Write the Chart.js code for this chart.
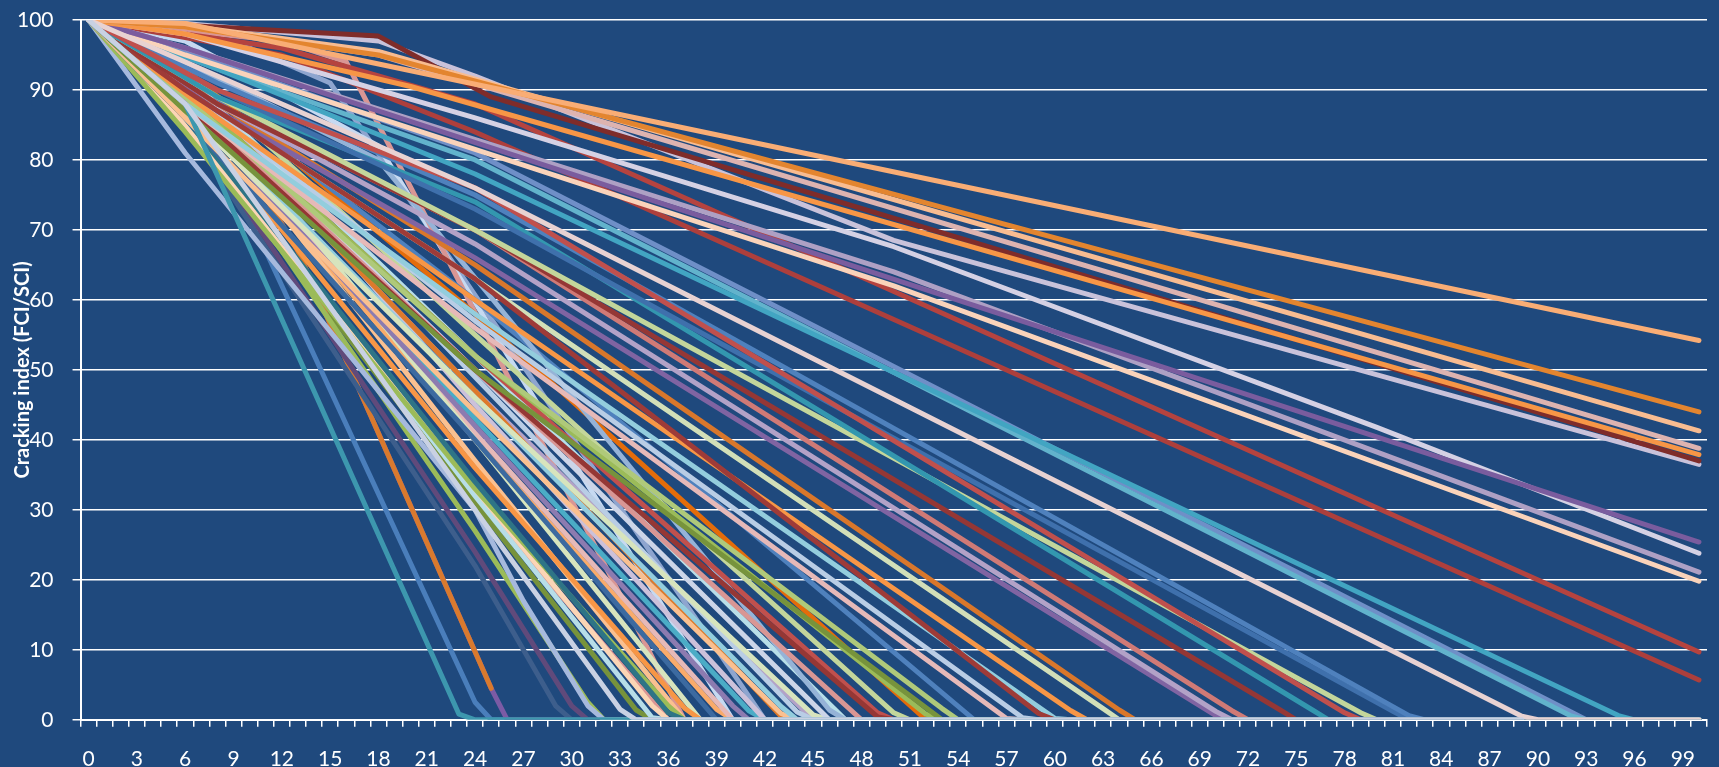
<!DOCTYPE html>
<html>
<head>
<meta charset="utf-8">
<script src="https://cdn.jsdelivr.net/npm/chart.js@4.4.1/dist/chart.umd.min.js"></script>
<style>
  html, body { margin: 0; padding: 0; background: #1F497D; }
  #wrap { width: 1719px; height: 767px; }
</style>
</head>
<body>
<div id="wrap"><canvas id="chart"></canvas></div>
<script>
//-------------
//- DATA -
//-------------
// categories 0..100 (years), labels shown every 3
var categories = [0,1,2,3,4,5,6,7,8,9,10,11,12,13,14,15,16,17,18,19,20,21,22,23,24,25,26,27,28,29,30,
  31,32,33,34,35,36,37,38,39,40,41,42,43,44,45,46,47,48,49,50,51,52,53,54,55,56,57,58,59,60,61,62,63,64,65,
  66,67,68,69,70,71,72,73,74,75,76,77,78,79,80,81,82,83,84,85,86,87,88,89,90,91,92,93,94,95,96,97,98,99,100];
var yTicks = [0,10,20,30,40,50,60,70,80,90,100];

// each line = [category, index value] vertices
var l01 = [[0,100],[6,99.5],[100,54.2]];
var l02 = [[0,100],[6,99],[18,95],[100,44]];
var l03 = [[0,100],[6,99.2],[18,95.5],[100,41.3]];
var l04 = [[0,100],[6,99],[18,95],[100,38.8]];
var l05 = [[0,100],[6,98],[20,90.5],[100,37.9]];
var l06 = [[0,100],[18,97.7],[25,89],[100,37]];
var l07 = [[0,100],[6,99.5],[18,97],[24,92],[50,68.5],[100,36.5]];
var l08 = [[0,100],[6,96],[100,25.4]];
var l09 = [[0,100],[6,98],[24,86],[50,67.6],[80,41.8],[100,23.8]];
var l10 = [[0,100],[6,96],[50,64],[100,21.1]];
var l11 = [[0,100],[6,95],[50,62],[100,19.8]];
var l12 = [[0,100],[12,96],[24,88],[100,9.7]];
var l13 = [[0,100],[12,95],[24,84],[100,5.7]];
var l14 = [[0,100],[8,93],[24,78],[95,0.6],[96,0],[100,0]];
var l15 = [[0,100],[8,93],[24,80],[92,0.6],[93,0],[100,0]];
var l16 = [[0,100],[8,94],[24,81],[92,1.2],[93,0],[100,0]];
var l17 = [[0,100],[8,92],[24,76],[89,0.5],[90,0],[100,0]];
var l18 = [[0,100],[8,90],[24,76],[78,1],[79,0],[100,0]];
var l19 = [[0,100],[8,91],[24,75],[82,0.6],[83,0],[100,0]];
var l20 = [[0,100],[8,90],[24,73],[81,1.2],[82,0],[100,0]];
var l21 = [[0,100],[8,89],[24,74],[76,1.4],[77,0],[100,0]];
var l22 = [[0,100],[8,89],[24,70],[79,1],[80,0],[100,0]];
var l23 = [[0,100],[8,88],[24,70],[74,1.4],[75,0],[100,0]];
var l24 = [[0,100],[6,90],[24,63],[59,0.9],[60,0],[100,0]];
var l25 = [[0,100],[8,88],[24,70],[71,1.3],[72,0],[100,0]];
var l26 = [[0,100],[8,88],[24,68],[70,1.2],[71,0],[100,0]];
var l27 = [[0,100],[8,87],[24,66],[70,0.6],[71,0],[100,0]];
var l28 = [[0,100],[8,88],[24,65],[64,1.4],[65,0],[100,0]];
var l29 = [[0,100],[8,87],[24,63],[63,1.6],[64,0],[100,0]];
var l30 = [[0,100],[8,86],[24,60],[61,1.3],[62,0],[100,0]];
var l31 = [[0,100],[6,88],[24,58],[60,0.2],[61,0],[100,0]];
var l32 = [[0,100],[6,90],[24,57],[58,0.3],[59,0],[100,0]];
var l33 = [[0,100],[6,88],[24,56],[57,0.2],[58,0],[100,0]];
var l34 = [[0,100],[6,89],[24,52],[53,1.6],[54,0],[100,0]];
var l35 = [[0,100],[6,87],[24,50],[53,0],[100,0]];
var l36 = [[0,100],[6,90],[24,52],[52,0.8],[53,0],[100,0]];
var l37 = [[0,100],[6,88],[24,50],[49,0.4],[50,0],[100,0]];
var l38 = [[0,100],[6,90],[24,52],[49,1],[50,0],[100,0]];
var l39 = [[0,100],[6,89],[24,50],[48,0],[100,0]];
var l40 = [[0,100],[6,90],[24,50],[46,0],[100,0]];
var l41 = [[0,100],[6,87],[24,46],[45,0.7],[46,0],[100,0]];
var l42 = [[0,100],[6,88],[24,46],[43,1.9],[44,0],[100,0]];
var l43 = [[0,100],[6,86],[24,44],[43,0.9],[44,0],[100,0]];
var l44 = [[0,100],[6,90],[24,47],[43,0.5],[44,0],[100,0]];
var l45 = [[0,100],[6,88],[24,42],[40,2],[41,0],[100,0]];
var l46 = [[0,100],[6,86],[24,40],[39,0],[100,0]];
var l47 = [[0,100],[6,87],[24,36],[37,1.7],[38,0],[100,0]];
var l48 = [[0,100],[6,86],[24,34],[36,1],[37,0],[100,0]];
var l49 = [[0,100],[6,84],[24,33],[36,2],[37,0],[100,0]];
var l50 = [[0,100],[6,85],[24,33],[35,2],[36,0],[100,0]];
var l51 = [[0,100],[6,86],[24,32],[35,0.3],[36,0],[100,0]];
var l52 = [[0,100],[6,88],[24,30],[33,1.5],[34,0],[89,0]];
var l53 = [[0,100],[6,81],[24,30],[27,17],[31,2],[32,0],[100,0]];
var l54 = [[0,100],[6,87],[24,27],[31,2.5],[32,0],[100,0]];
var l55 = [[0,100],[6,86],[24,24],[30,2],[31,0],[100,0]];
var l56 = [[0,100],[6,85],[24,22],[29,2],[30,0],[100,0]];
var l57 = [[0,100],[7,90],[13,67],[25,4.5]];
var l58 = [[0,100],[7,90],[13,67],[25,4.5],[26,0],[100,0]];
var l59 = [[0,100],[6,88],[11,67],[24,2.5],[25,0],[100,0]];
var l60 = [[0,100],[6,88],[23,0.8],[24,0],[100,0]];
var l61 = [[0,100],[6,92],[24,40],[38,0],[100,0]];
var l62 = [[0,100],[6,90],[24,41],[40,0],[100,0]];
var l63 = [[0,100],[6,93],[24,45],[42,0],[100,0]];
var l64 = [[0,100],[6,88],[24,43],[41,1.3],[42,0],[100,0]];
var l65 = [[0,100],[6,90],[24,37],[37,0],[100,0]];
var l66 = [[0,100],[6,92],[24,49],[44,1.1],[45,0],[100,0]];
var l67 = [[0,100],[6,85],[24,31],[34,1.4],[35,0],[100,0]];
var l68 = [[0,100],[6,89],[24,40],[39,1.5],[40,0],[100,0]];
var l69 = [[0,100],[6,94],[18,80],[46,1.4],[47,0],[100,0]];
var l70 = [[0,100],[6,86],[24,32],[36,0],[100,0]];
var l71 = [[0,100],[6,92],[24,52],[47,0],[100,0]];
var l72 = [[0,100],[6,90],[24,47],[45,0],[100,0]];
var l73 = [[0,100],[6,92],[24,60],[55,0],[100,0]];
var l74 = [[0,100],[6,93],[24,58],[52,0],[100,0]];
var l75 = [[0,100],[6,93],[24,55],[50,1],[51,0],[100,0]];
var l76 = [[0,100],[12,97],[16,94],[37,0],[100,0]];
var l77 = [[0,100],[6,97],[18,82],[40,0],[100,0]];
var l78 = [[0,100],[10,96],[15,91],[42,0],[100,0]];

var lines = [l01,l02,l03,l04,l05,l06,l07,l08,l09,l10,l11,l12,l13,l14,l15,l16,l17,l18,l19,l20,
  l21,l22,l23,l24,l25,l26,l27,l28,l29,l30,l31,l32,l33,l34,l35,l36,l37,l38,l39,l40,
  l41,l42,l43,l44,l45,l46,l47,l48,l49,l50,l51,l52,l53,l54,l55,l56,l57,l58,l59,l60,
  l61,l62,l63,l64,l65,l66,l67,l68,l69,l70,l71,l72,l73,l74,l75,l76,l77,l78];

//PARAMETRIZACION DE COLORES (one per line)
var colors = ['#F9AD75','#E3852F','#F8BC91','#DDB3B0','#F79646','#7F2C2A','#C9C2DA','#7A5C9E','#D5D1E4','#AEA0C4',
  '#FAD3BA','#B5433F','#AD3F3C','#42A5C2','#62B3CC','#6F8FC7','#E8D2D2','#C0504D','#4F81BD','#3F70AC',
  '#3397AF','#C3D69B','#953735','#9E3B38','#D07A76','#B3A2C7','#8064A2','#D9772B','#D2DFB8','#F79646',
  '#93CDDD','#B9CDE5','#E6B9B8','#AFC97A','#77933C','#9BBB59','#953735','#C0504D','#D99694','#CCD5E8',
  '#D7E4BD','#93CDDD','#FAC090','#DD7A2C','#8C7BB0','#3C6AA0','#F79646','#2E7486','#9BBB59','#FBD5B5',
  '#B7DEE8','#C9D1E3','#A6B9DD','#9BBB59','#604A7B','#3D5E8C','#D97A2E','#7B5BA5','#4A7EBB','#3D97AE',
  '#D7E4BD','#E6B9B8','#CCC1DA','#4BACC6','#FAC090','#B9CDE5','#77933C','#F9AB6B','#95B3D7','#DA9694',
  '#B7DEE8','#B3A2C7','#4F81BD','#E46C0A','#C3D69B','#D99694','#C6D9F1','#8EA5CF'];

// lines lying on top of the zero strip
var onTop = { 52: -3, 17: -2, 60: -1 };

//-------------
//- CHART -
//-------------
function toSeries(vertices)
{
     var arr = categories.map(function() { return null; });
     vertices.forEach(function(p) { arr[p[0]] = p[1]; });
     return arr;
}

var datasets = [];
lines.forEach(function(v, i) {
     datasets.push({
          label: 'S' + (i + 1),
          data: toSeries(v),
          borderColor: colors[i],
          backgroundColor: colors[i],
          borderWidth: 5,
          borderCapStyle: 'round',
          borderJoinStyle: 'round',
          pointRadius: 0,
          pointHoverRadius: 0,
          tension: 0,
          fill: false,
          spanGaps: true,
          order: onTop[i + 1] || 0
     });
});

var ctx = document.getElementById('chart').getContext('2d');
var chart = new Chart(ctx, {
     type: 'line',
     data: { labels: categories, datasets: datasets },
     options: {
          responsive: true,
          maintainAspectRatio: false,
          animation: false,
          events: [],
          layout: { padding: { top: 20, right: 10, bottom: -25, left: 0 } },
          plugins: { legend: { display: false }, tooltip: { enabled: false } },
          scales: {
               x: {
                    type: 'category',
                    offset: true,
                    grid: { offset: true, drawOnChartArea: false, drawTicks: true, tickLength: 7, color: '#FFFFFF', lineWidth: 1.5 },
                    border: { display: true, color: '#FFFFFF', width: 2 },
                    ticks: {
                         autoSkip: false, maxRotation: 0, minRotation: 0, padding: 20,
                         color: '#FFFFFF', font: { family: 'Lato', size: 21 },
                         callback: function(val, i) { return i % 3 === 0 ? String(categories[i]) : ''; }
                    }
               },
               y: {
                    min: yTicks[0],
                    max: yTicks[yTicks.length - 1],
                    afterBuildTicks: function(s) { s.ticks = yTicks.map(function(t) { return { value: t }; }); },
                    // the tick padding should not push the plot down
                    afterFit: function(s) { s.paddingTop = 12; s.paddingBottom = 12; },
                    grid: { color: '#FFFFFF', lineWidth: 1.5, drawTicks: true, tickLength: 8 },
                    border: { display: true, color: '#FFFFFF', width: 2 },
                    ticks: { padding: 19, color: '#FFFFFF', font: { family: 'Lato', size: 21 } },
                    title: {
                         display: true,
                         text: 'Cracking index (FCI/SCI)',
                         color: '#FFFFFF',
                         font: { family: 'Lato', size: 20, weight: 'bold' },
                         padding: { top: 11, bottom: -37 }
                    }
               }
          }
     }
});
</script>
</body>
</html>
